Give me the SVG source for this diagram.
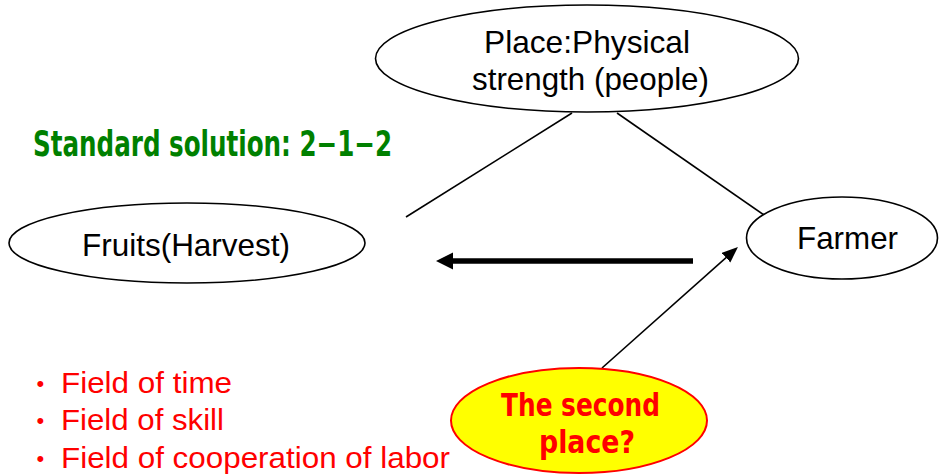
<svg xmlns="http://www.w3.org/2000/svg" width="940" height="475" viewBox="0 0 940 475">
<style>
.node{fill:#fff;stroke:#000;stroke-width:1.6}
.lbl{font-family:"Liberation Sans",Arial,sans-serif;font-size:31.5px;fill:#000}
.narrow{font-family:"Liberation Sans Narrow","DejaVu Sans Condensed","Liberation Sans",sans-serif;font-weight:bold;font-size:35px}
.q{font-size:32px}
.red{font-family:"Liberation Sans",Arial,sans-serif;font-size:29.5px;fill:#ff0000}
.dot{font-family:"Liberation Sans",Arial,sans-serif;font-size:22px;fill:#ff0000}
.conn{stroke:#000;stroke-width:1.6;fill:none}
</style>
<defs>
<marker id="thick" markerUnits="userSpaceOnUse" markerWidth="20" markerHeight="20" refX="3" refY="8.5" orient="auto">
<path d="M0,0 L17,8.5 L0,17 z" fill="#000"/>
</marker>
<marker id="thin" markerUnits="userSpaceOnUse" markerWidth="20" markerHeight="16" refX="2" refY="6.5" orient="auto">
<path d="M0,0 L16,6.5 L0,13 z" fill="#000"/>
</marker>
</defs>
<rect width="940" height="475" fill="#fff"/>
<g id="connectors">
<line class="conn" x1="572" y1="113" x2="406" y2="217"/>
<line class="conn" x1="617" y1="113" x2="767" y2="217"/>
<line x1="693" y1="261" x2="450" y2="261" stroke="#000" stroke-width="5.5" marker-end="url(#thick)"/>
<line class="conn" x1="602" y1="368" x2="727.5" y2="256.3" marker-end="url(#thin)"/>
</g>
<g id="place">
<ellipse class="node" cx="587" cy="58.5" rx="211.5" ry="53.5"/>
<text class="lbl" x="484" y="53" textLength="206" lengthAdjust="spacingAndGlyphs">Place:Physical</text>
<text class="lbl" x="472" y="90" textLength="237" lengthAdjust="spacingAndGlyphs">strength (people)</text>
</g>
<g id="fruits">
<ellipse class="node" cx="187" cy="243" rx="178" ry="40"/>
<text class="lbl" x="82" y="256" textLength="208" lengthAdjust="spacingAndGlyphs">Fruits(Harvest)</text>
</g>
<g id="farmer">
<ellipse class="node" cx="842" cy="238" rx="95.5" ry="41"/>
<text class="lbl" x="797" y="249" textLength="101" lengthAdjust="spacingAndGlyphs">Farmer</text>
</g>
<g id="second">
<ellipse cx="579" cy="420.5" rx="128" ry="52.5" fill="#ffff00" stroke="#ff0000" stroke-width="2"/>
<text class="narrow q" fill="#ff0000" x="501" y="416" textLength="159" lengthAdjust="spacingAndGlyphs">The second</text>
<text class="narrow q" fill="#ff0000" x="539" y="453" textLength="96" lengthAdjust="spacingAndGlyphs">place?</text>
</g>
<g id="title">
<text class="narrow" fill="#008000" x="33" y="156" textLength="359" lengthAdjust="spacingAndGlyphs">Standard solution: 2−1−2</text>
</g>
<g id="fields">
<text class="dot" x="36.5" y="391">•</text>
<text class="red" x="61" y="393" textLength="171" lengthAdjust="spacingAndGlyphs">Field of time</text>
<text class="dot" x="36.5" y="428">•</text>
<text class="red" x="61" y="430" textLength="163" lengthAdjust="spacingAndGlyphs">Field of skill</text>
<text class="dot" x="36.5" y="466">•</text>
<text class="red" x="61" y="468" textLength="389" lengthAdjust="spacingAndGlyphs">Field of cooperation of labor</text>
</g>
</svg>
